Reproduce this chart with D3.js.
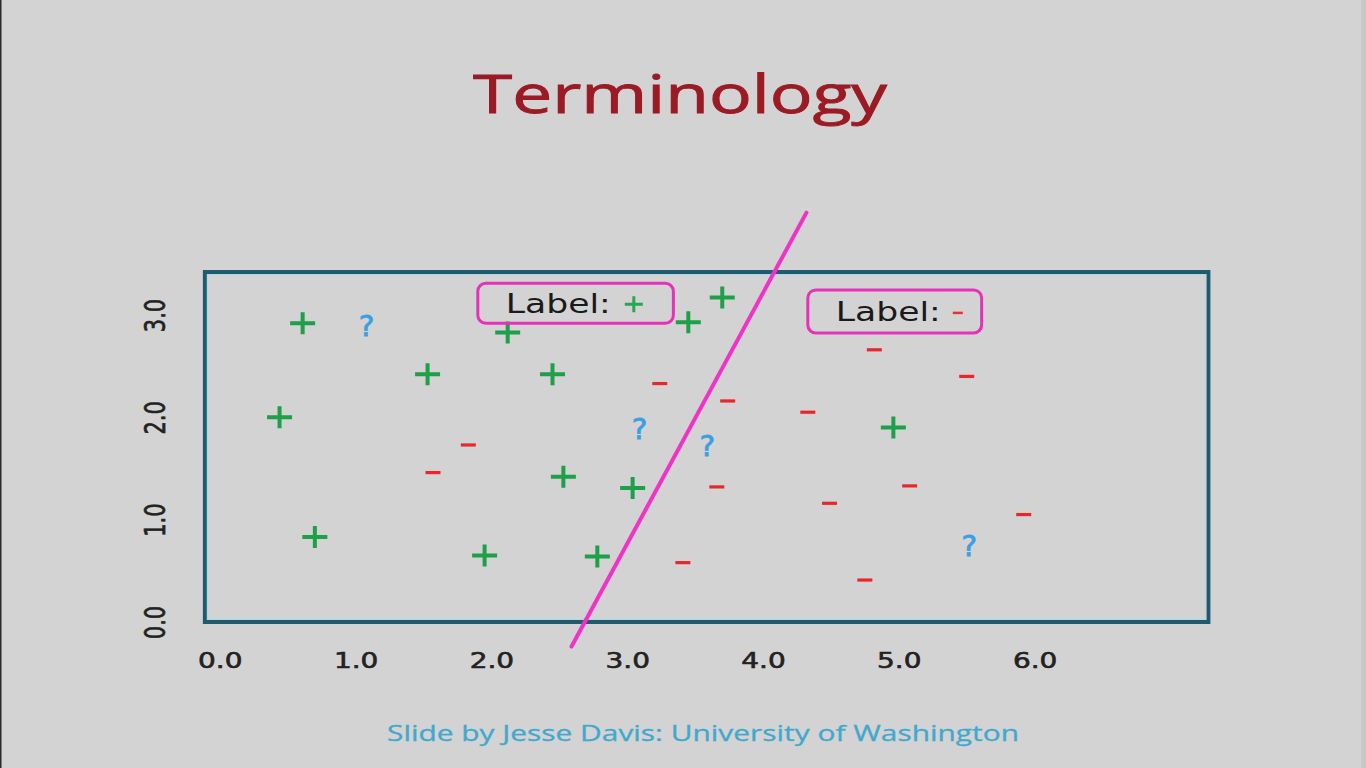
<!DOCTYPE html>
<html>
<head>
<meta charset="utf-8">
<script src="https://cdn.jsdelivr.net/npm/d3@7"></script>
<style>
html,body{margin:0;padding:0;background:#d3d3d3;overflow:hidden;}
</style>
</head>
<body>
<svg id="chart" width="1366" height="768"></svg>
<script>
// ---- data ----
const xTicks = [0, 1, 2, 3, 4, 5, 6];
const yTicks = [0, 1, 2, 3];
const positiveX = [0.61, 0.44, 1.53, 2.12, 2.45, 3.45, 3.70, 0.70, 1.95, 2.53, 2.78, 3.04, 4.96];
const positiveY = [2.92, 2.00, 2.42, 2.83, 2.42, 2.93, 3.17, 0.83, 0.65, 1.42, 0.64, 1.31, 1.90];
const negativeX = [1.83, 1.57, 3.24, 3.74, 4.33, 3.66, 3.41, 4.82, 5.50, 5.08, 4.49, 5.92, 4.75];
const negativeY = [1.73, 1.46, 2.33, 2.16, 2.05, 1.32, 0.58, 2.66, 2.40, 1.33, 1.16, 1.05, 0.41];
const unknownX = [1.08, 3.09, 3.59, 5.52];
const unknownY = [2.90, 1.89, 1.72, 0.75];
const separatorX = [4.32, 2.59];
const separatorY = [4.00, -0.24];
const labelTexts = ["Label:", "Label:"];
const labelSigns = ["+", "-"];
const labelBoxX0 = [1.90, 4.33];
const labelBoxX1 = [3.34, 5.61];
const labelBoxY0 = [3.31, 3.245];
const labelBoxY1 = [2.92, 2.825];
const titleText = "Terminology";
const footerText = "Slide by Jesse Davis: University of Washington";

// ---- layout ----
const SX = 1.33; // horizontal stretch of the original slide
const svg = d3.select("#chart");
const x = d3.scaleLinear().domain([0, 6]).range([219.8, 1034.6]);
const y = d3.scaleLinear().domain([0, 3]).range([622, 315]);
const frameX = [-0.11, 7.28], frameY = [0, 3.42];

svg.append("rect").attr("width", 1366).attr("height", 768).attr("fill", "#d3d3d3");
svg.append("rect").attr("x", 0).attr("y", 0).attr("width", 1.5).attr("height", 768).attr("fill", "#2a2a2a");
svg.append("rect").attr("x", 1361).attr("y", 0).attr("width", 5).attr("height", 768).attr("fill", "#c8c8c8");

// title
svg.append("text")
  .attr("transform", `translate(473,113) scale(${SX},1)`)
  .attr("font-family", "Open Sans, Lato, sans-serif")
  .attr("font-size", 53)
  .attr("fill", "#9b1b25")
  .attr("stroke", "#9b1b25").attr("stroke-width", 0.9)
  .attr("textLength", 414 / SX)
  .attr("lengthAdjust", "spacingAndGlyphs")
  .text(titleText);

// footer
svg.append("text")
  .attr("transform", `translate(387,741) scale(${SX},1)`)
  .attr("font-family", "Open Sans, Lato, sans-serif")
  .attr("font-size", 22)
  .attr("fill", "#42a8cd")
  .attr("stroke", "#42a8cd").attr("stroke-width", 0.3)
  .attr("textLength", 632 / SX)
  .attr("lengthAdjust", "spacingAndGlyphs")
  .text(footerText);

// frame
const fx0 = x(frameX[0]), fx1 = x(frameX[1]), fy0 = y(frameY[1]), fy1 = y(frameY[0]);
svg.append("rect")
  .attr("x", fx0).attr("y", fy0).attr("width", fx1 - fx0).attr("height", fy1 - fy0)
  .attr("fill", "none").attr("stroke", "#1f5b6f").attr("stroke-width", 4);
svg.append("rect")
  .attr("x", fx0 + 2.5).attr("y", fy0 + 2.5).attr("width", fx1 - fx0 - 5).attr("height", fy1 - fy0 - 5)
  .attr("fill", "none").attr("stroke", "#a9d6e6").attr("stroke-width", 1).attr("opacity", 0.8);

// x axis
const xAxis = d3.axisBottom(x).tickValues(xTicks).tickFormat(d3.format(".1f")).tickSize(0);
const gx = svg.append("g").attr("transform", `translate(0,${fy1})`).call(xAxis);
gx.select(".domain").remove();
gx.selectAll(".tick text")
  .attr("y", 0).attr("dy", 0)
  .attr("transform", `translate(0,46) scale(${SX},1)`)
  .attr("font-family", "DejaVu Sans, sans-serif")
  .attr("font-size", 21)
  .attr("fill", "#222")
  .attr("stroke", "#222").attr("stroke-width", 0.6);

// y axis
const yAxis = d3.axisLeft(y).tickValues(yTicks).tickFormat(d3.format(".1f")).tickSize(0);
const gy = svg.append("g").attr("transform", `translate(0,0)`).call(yAxis);
gy.select(".domain").remove();
gy.selectAll(".tick text")
  .attr("x", 0).attr("dy", 0)
  .attr("text-anchor", "middle")
  .attr("transform", `translate(165,0) scale(${SX},1) rotate(-90)`)
  .attr("font-family", "DejaVu Sans, sans-serif")
  .attr("font-size", 21)
  .attr("fill", "#222")
  .attr("stroke", "#222").attr("stroke-width", 0.5);

// separator line
const sepData = separatorX.map((d, i) => [d, separatorY[i]]);
svg.append("path")
  .datum(sepData)
  .attr("d", d3.line().x(d => x(d[0])).y(d => y(d[1])))
  .attr("stroke", "#f033c6").attr("stroke-width", 4).attr("fill", "none")
  .attr("stroke-linecap", "round");

// positives
const pos = positiveX.map((d, i) => [d, positiveY[i]]);
svg.append("g").selectAll("path").data(pos).join("path")
  .attr("d", d => {
    const cx = x(d[0]), cy = y(d[1]);
    return `M${cx - 12.5},${cy}H${cx + 12.5}M${cx},${cy - 11}V${cy + 11}`;
  })
  .attr("stroke", "#1f9f4a").attr("stroke-width", 4).attr("fill", "none");

// negatives
const neg = negativeX.map((d, i) => [d, negativeY[i]]);
svg.append("g").selectAll("path").data(neg).join("path")
  .attr("d", d => {
    const cx = x(d[0]), cy = y(d[1]);
    return `M${cx - 7.5},${cy}H${cx + 7.5}`;
  })
  .attr("stroke", "#e8262c").attr("stroke-width", 3.2).attr("fill", "none");

// unknowns
const unk = unknownX.map((d, i) => [d, unknownY[i]]);
svg.append("g").selectAll("text").data(unk).join("text")
  .attr("transform", d => `translate(${x(d[0])},${y(d[1]) + 10.5}) scale(1.05,1)`)
  .attr("text-anchor", "middle")
  .attr("font-family", "DejaVu Sans, sans-serif")
  .attr("font-size", 28)
  .attr("fill", "#3aa0e2")
  .attr("stroke", "#3aa0e2").attr("stroke-width", 0.8)
  .text("?");

// label boxes
labelTexts.forEach((t, i) => {
  const bx0 = x(labelBoxX0[i]), bx1 = x(labelBoxX1[i]);
  const by0 = y(labelBoxY0[i]), by1 = y(labelBoxY1[i]);
  const g = svg.append("g");
  g.append("rect")
    .attr("x", bx0).attr("y", by0).attr("width", bx1 - bx0).attr("height", by1 - by0)
    .attr("rx", 8).attr("ry", 8)
    .attr("fill", "none").attr("stroke", "#e632b9").attr("stroke-width", 3);
  const cy = (by0 + by1) / 2;
  g.append("text")
    .attr("transform", `translate(${bx0 + 28},${cy + 10}) scale(${SX},1)`)
    .attr("font-family", "DejaVu Sans, sans-serif")
    .attr("font-size", 26)
    .attr("fill", "#1a1a1a")
    .text(t);
  const sx = bx0 + 28 + 105 + (labelSigns[i] === "+" ? 23 : 17);
  if (labelSigns[i] === "+") {
    g.append("path")
      .attr("d", `M${sx - 9},${cy + 1}H${sx + 9}M${sx},${cy - 7}V${cy + 9}`)
      .attr("stroke", "#2aa552").attr("stroke-width", 3).attr("fill", "none");
  } else {
    g.append("path")
      .attr("d", `M${sx - 5},${cy + 1.5}H${sx + 5}`)
      .attr("stroke", "#e8322f").attr("stroke-width", 2.5).attr("fill", "none");
  }
});
</script>
</body>
</html>
